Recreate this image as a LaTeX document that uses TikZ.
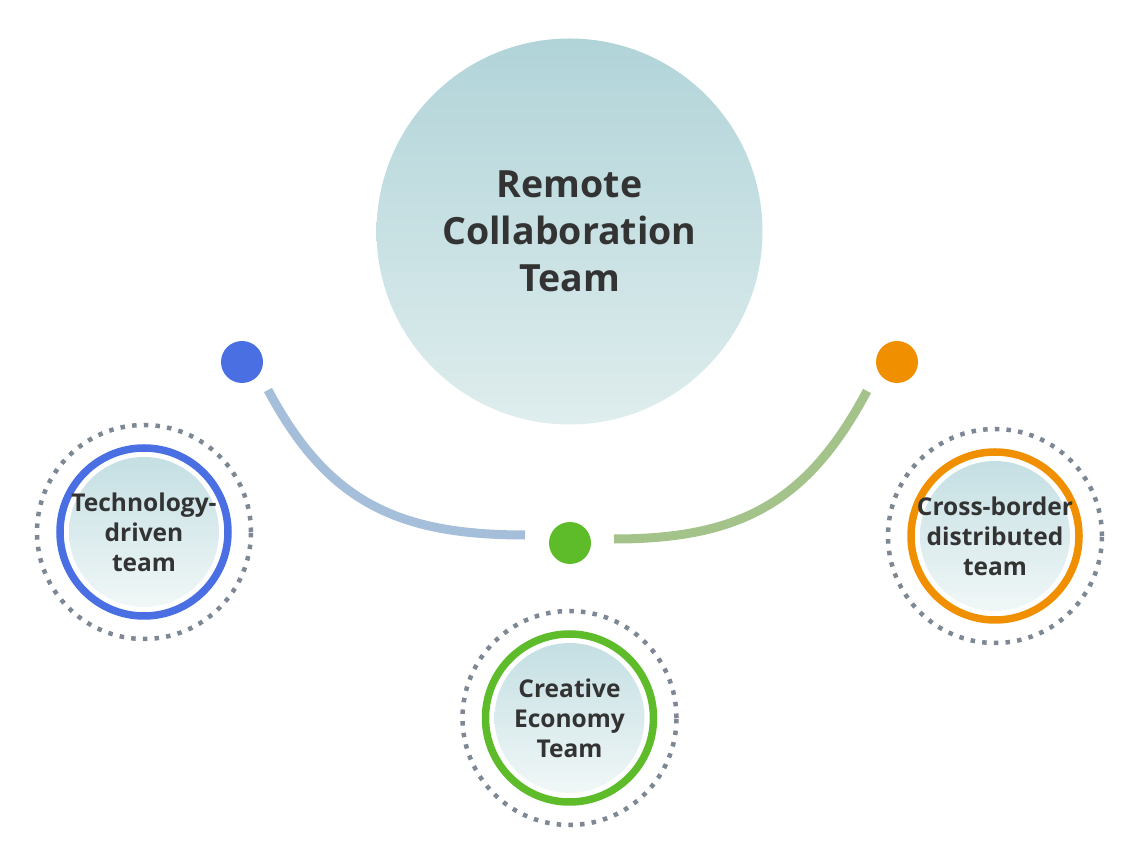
\documentclass[tikz,border=0pt]{standalone}
\usepackage{fontspec}
\setmainfont{Open Sans}
\usetikzlibrary{positioning}
\definecolor{TextDark}{HTML}{333333}
\definecolor{HubTop}{HTML}{B1D4D9}
\definecolor{HubBot}{HTML}{DFEDED}
\definecolor{CardTop}{HTML}{C4DFE3}
\definecolor{CardBot}{HTML}{F1F7F7}
\definecolor{RingGray}{HTML}{7E8794}
\definecolor{TechBlue}{HTML}{4A6FE3}
\definecolor{EcoGreen}{HTML}{5EBC2B}
\definecolor{BorderOrange}{HTML}{F09000}
\definecolor{ArcBlue}{HTML}{A5BED9}
\definecolor{ArcGreen}{HTML}{A3C38A}

\begin{document}
\begin{tikzpicture}[x=1pt, y=1pt,
  hub/.style={circle, minimum size=386pt, inner sep=0pt, top color=HubTop, bottom color=HubBot,
              align=center, font=\bfseries\fontsize{37.5}{47}\selectfont\color{TextDark}},
  card/.style={circle, minimum size=150pt, inner sep=0pt, top color=CardTop, bottom color=CardBot},
  cardtext/.style={align=center, inner sep=0pt, font=\bfseries\fontsize{24.5}{30}\selectfont\color{TextDark}},
  ring/.style={circle, minimum size=168pt, inner sep=0pt, draw=#1, line width=7.5pt},
  dotring/.style={circle, minimum size=214pt, inner sep=0pt, draw=RingGray, line width=4.5pt,
                  dash pattern=on 4.5pt off 7.2pt},
  dot/.style={circle, minimum size=42pt, inner sep=0pt, fill=#1},
  arc/.style={line width=9pt, draw=#1}]
  \useasboundingbox (0,0) rectangle (1138,862);
  \node[hub] (hub) at (569.5,630.5) {Remote\\Collaboration\\Team};

  \node[dotring] (techOut) at (144,330) {};
  \node[ring=TechBlue] (techRing) at (techOut) {};
  \node[card] (tech) at (techOut) {};
  \node[cardtext] (techText) at (tech) {Technology-\\driven\\team};

  \node[dotring] (ecoOut) at (569.5,144) {};
  \node[ring=EcoGreen] (ecoRing) at (ecoOut) {};
  \node[card] (eco) at (ecoOut) {};
  \node[cardtext] (ecoText) at (eco) {Creative\\Economy\\Team};

  \node[dotring] (crossOut) at (995,326) {};
  \node[ring=BorderOrange] (crossRing) at (crossOut) {};
  \node[card] (cross) at (crossOut) {};
  \node[cardtext] (crossText) at (cross) {Cross-border\\distributed\\team};

  \node[dot=TechBlue] (techDot) at (242,500) {};
  \node[dot=EcoGreen] (ecoDot) at (570,319) {};
  \node[dot=BorderOrange] (crossDot) at (897,500) {};

  \coordinate (leftA) at (268,472);
  \coordinate (leftB) at (525,327);
  \coordinate (rightA) at (614,323);
  \coordinate (rightB) at (867,471);
  \draw[arc=ArcBlue] (leftA) to[out=-62, in=180, looseness=1.1] (leftB);
  \draw[arc=ArcGreen] (rightA) to[out=0, in=-118, looseness=1.1] (rightB);
\end{tikzpicture}
\end{document}
